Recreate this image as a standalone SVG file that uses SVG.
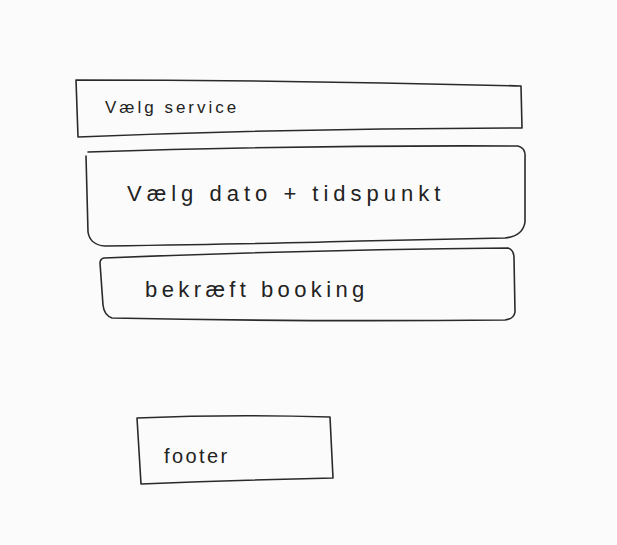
<svg xmlns="http://www.w3.org/2000/svg" width="617" height="545" viewBox="0 0 617 545">
<style>
.box{fill:none;stroke:#2a2a2a;stroke-width:1.6;stroke-linejoin:round;stroke-linecap:round}
.lbl{font-family:"Liberation Sans","DejaVu Sans",sans-serif;fill:#222}
</style>
<rect width="617" height="545" fill="#fbfbfb"/>
<g id="node-vaelg-service">
<path class="box" d="M76,80 Q300,80 521,86 L522,128 Q300,128 78,137 Z"/>
<text class="lbl" x="105" y="113" font-size="17" letter-spacing="3">Vælg service</text>
</g>
<g id="node-vaelg-dato">
<path class="box" d="M88,152 Q300,145 518,146 Q526,148 525,158 L525,222 Q523,236 505,238 Q420,240 360,241 Q300,243 105,246 Q90,245 88,232 L86,156"/>
<text class="lbl" x="127" y="201" font-size="22" letter-spacing="5">Vælg dato + tidspunkt</text>
</g>
<g id="node-bekraeft">
<path class="box" d="M104,258 Q300,250 508,248 Q514,250 514,258 L515,312 Q514,319 505,320 Q300,322 112,318 Q104,315 103,305 L100,263 Q100,259 104,258"/>
<text class="lbl" x="145" y="297" font-size="22" letter-spacing="4.4">bekræft booking</text>
</g>
<g id="node-footer">
<path class="box" d="M137,418 Q230,414 330,417 L333,478 Q240,480 141,484 Z"/>
<text class="lbl" x="164" y="463" font-size="20" letter-spacing="2.4">footer</text>
</g>
<g id="connectors"/>
</svg>
